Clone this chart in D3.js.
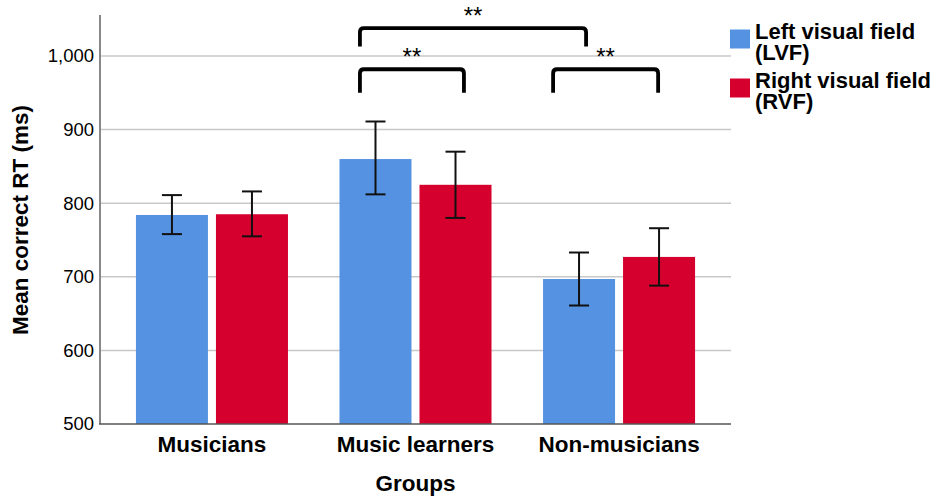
<!DOCTYPE html>
<html>
<head>
<meta charset="utf-8">
<script src="https://cdn.jsdelivr.net/npm/d3@7"></script>
<style>
  body { margin: 0; background: #fff; }
  text { font-family: 'Liberation Sans', Arial, sans-serif; }
</style>
</head>
<body>
<div id="chart"></div>
<script>
// Data
const groups = ['Musicians', 'Music learners', 'Non-musicians']
const fields = ['LVF', 'RVF']
const fieldLabels = [['Left visual field', '(LVF)'], ['Right visual field', '(RVF)']]
const lvfMeans = [784, 860, 697]
const rvfMeans = [785, 825, 727]
const lvfLow = [758, 812, 661]
const lvfHigh = [811, 911, 733]
const rvfLow = [755, 780, 688]
const rvfHigh = [816, 870, 766]
const yTicks = [500, 600, 700, 800, 900, 1000]

// significance brackets: group + fraction of the group band, heights in ms
const brackets = [
  { fromGroup: 'Music learners', fromPos: 0.227, toGroup: 'Non-musicians', toPos: 0.338, top: 1038, foot: 1013, label: '**' },
  { fromGroup: 'Music learners', fromPos: 0.227, toGroup: 'Music learners', toPos: 0.738, top: 982, foot: 950, label: '**' },
  { fromGroup: 'Non-musicians', fromPos: 0.176, toGroup: 'Non-musicians', toPos: 0.692, top: 982, foot: 950, label: '**' }
]

const colors = { LVF: '#5593e2', RVF: '#d6002f' }

const W = 935
const H = 504
const plot = { left: 100, right: 731, top: 15, bottom: 424 }

const rows = groups.map((g, i) => ({
  group: g,
  values: [
    { field: 'LVF', mean: lvfMeans[i], low: lvfLow[i], high: lvfHigh[i] },
    { field: 'RVF', mean: rvfMeans[i], low: rvfLow[i], high: rvfHigh[i] }
  ]
}))

const svg = d3.select('#chart')
  .append('svg')
  .attr('width', W)
  .attr('height', H)

const x0 = d3.scaleBand()
  .domain(groups)
  .range([plot.left, plot.right])
  .paddingInner(0)
  .paddingOuter(0.05)

const x1 = d3.scaleBand()
  .domain(fields)
  .range([0, x0.bandwidth()])
  .paddingInner(0.1)
  .paddingOuter(0.322)

const y = d3.scaleLinear()
  .domain([500, 1055.7])
  .range([plot.bottom, plot.top])

// gridlines
svg.append('g')
  .selectAll('line')
  .data(yTicks.filter(d => d > 500))
  .enter().append('line')
  .attr('x1', plot.left)
  .attr('x2', plot.right)
  .attr('y1', d => y(d))
  .attr('y2', d => y(d))
  .attr('stroke', '#c8c8c8')
  .attr('stroke-width', 1.5)

// bars
const g = svg.append('g')
  .selectAll('g')
  .data(rows)
  .enter().append('g')
  .attr('transform', d => 'translate(' + x0(d.group) + ',0)')

g.selectAll('rect')
  .data(d => d.values)
  .enter().append('rect')
  .attr('x', d => x1(d.field))
  .attr('width', x1.bandwidth())
  .attr('y', d => y(d.mean))
  .attr('height', d => y(500) - y(d.mean))
  .attr('fill', d => colors[d.field])

// error bars
const err = g.selectAll('g.err')
  .data(d => d.values)
  .enter().append('g')
  .attr('class', 'err')
  .attr('stroke', '#111')
  .attr('stroke-width', 2)

err.append('line')
  .attr('x1', d => x1(d.field) + x1.bandwidth() / 2)
  .attr('x2', d => x1(d.field) + x1.bandwidth() / 2)
  .attr('y1', d => y(d.low))
  .attr('y2', d => y(d.high))

err.selectAll('line.cap')
  .data(d => [d.low, d.high].map(v => ({ field: d.field, v: v })))
  .enter().append('line')
  .attr('class', 'cap')
  .attr('x1', d => x1(d.field) + x1.bandwidth() / 2 - 10)
  .attr('x2', d => x1(d.field) + x1.bandwidth() / 2 + 10)
  .attr('y1', d => y(d.v))
  .attr('y2', d => y(d.v))

// axes lines
svg.append('line')
  .attr('x1', plot.left).attr('x2', plot.left)
  .attr('y1', plot.top).attr('y2', plot.bottom)
  .attr('stroke', '#888')
  .attr('stroke-width', 2)

svg.append('line')
  .attr('x1', plot.left - 1).attr('x2', plot.right)
  .attr('y1', plot.bottom).attr('y2', plot.bottom)
  .attr('stroke', '#555')
  .attr('stroke-width', 1.5)

// y tick labels
const yAxis = d3.axisLeft(y)
  .tickValues(yTicks)
  .tickSize(0)
  .tickPadding(6)
  .tickFormat(d3.format(','))

svg.append('g')
  .attr('transform', 'translate(' + plot.left + ',0)')
  .call(yAxis)
  .call(a => a.select('.domain').remove())
  .selectAll('text')
  .attr('font-family', "'Liberation Sans', Arial, sans-serif")
  .attr('font-size', 18.5)
  .attr('fill', '#000')

// x category labels
const xAxis = d3.axisBottom(x0).tickSize(0).tickPadding(12)
svg.append('g')
  .attr('transform', 'translate(0,' + plot.bottom + ')')
  .call(xAxis)
  .call(a => a.select('.domain').remove())
  .selectAll('text')
  .attr('font-family', "'Liberation Sans', Arial, sans-serif")
  .attr('font-size', 22.5)
  .attr('font-weight', 'bold')
  .attr('fill', '#000')

// axis titles
svg.append('text')
  .attr('x', (plot.left + plot.right) / 2)
  .attr('y', 491)
  .attr('text-anchor', 'middle')
  .attr('font-size', 22.5)
  .attr('font-weight', 'bold')
  .text('Groups')

svg.append('text')
  .attr('transform', 'translate(27.5,220) rotate(-90)')
  .attr('text-anchor', 'middle')
  .attr('font-size', 22.5)
  .attr('font-weight', 'bold')
  .text('Mean correct RT (ms)')

// significance brackets
const bx = (grp, f) => x0(grp) + f * x0.step()
const br = svg.append('g')
  .selectAll('g')
  .data(brackets)
  .enter().append('g')

br.append('path')
  .attr('d', d => {
    const xa = bx(d.fromGroup, d.fromPos)
    const xb = bx(d.toGroup, d.toPos)
    const yt = y(d.top)
    const yf = y(d.foot)
    return 'M' + xa + ',' + yf + 'L' + xa + ',' + (yt + 4) +
      'Q' + xa + ',' + yt + ' ' + (xa + 4) + ',' + yt +
      'L' + (xb - 4) + ',' + yt +
      'Q' + xb + ',' + yt + ' ' + xb + ',' + (yt + 4) +
      'L' + xb + ',' + yf
  })
  .attr('fill', 'none')
  .attr('stroke', '#000')
  .attr('stroke-width', 3.8)

br.append('text')
  .attr('x', d => (bx(d.fromGroup, d.fromPos) + bx(d.toGroup, d.toPos)) / 2)
  .attr('y', d => y(d.top) - 4)
  .attr('text-anchor', 'middle')
  .attr('font-size', 24)
  .text(d => d.label)

// legend
const leg = svg.append('g')
  .selectAll('g')
  .data(fields)
  .enter().append('g')
  .attr('transform', (d, i) => 'translate(730,' + (29.5 + i * 49) + ')')

leg.append('rect')
  .attr('width', 20)
  .attr('height', 19)
  .attr('fill', d => colors[d])

leg.append('text')
  .attr('x', 25)
  .attr('y', 9.5)
  .attr('font-size', 22)
  .attr('font-weight', 'bold')
  .selectAll('tspan')
  .data((d, i) => fieldLabels[i])
  .enter().append('tspan')
  .attr('x', 25)
  .attr('dy', (d, i) => i === 0 ? 0 : 21)
  .text(d => d)
</script>
</body>
</html>
